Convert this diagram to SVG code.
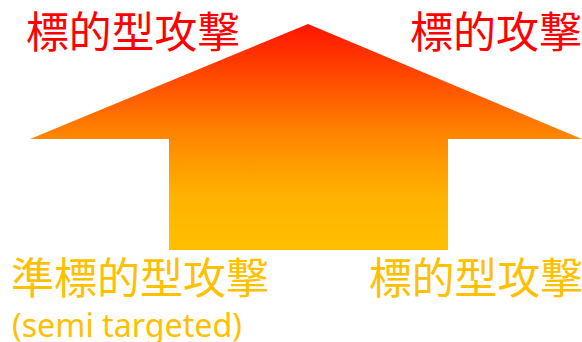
<svg xmlns="http://www.w3.org/2000/svg" width="582" height="342" viewBox="0 0 582 342">
  <defs>
    <linearGradient id="grad" gradientUnits="userSpaceOnUse" x1="0" y1="24" x2="0" y2="250">
      <stop offset="0" stop-color="#FF1400"/>
      <stop offset="0.283" stop-color="#FF5500"/>
      <stop offset="0.504" stop-color="#FF8800"/>
      <stop offset="0.77" stop-color="#FFB300"/>
      <stop offset="1" stop-color="#FFC000"/>
    </linearGradient>
  </defs>
  <style>
    .jp { font-family: "Noto Sans CJK JP", "Noto Sans", sans-serif; font-size: 43px; }
    .top { fill: #FF0000; }
    .bottom { fill: #FFC000; }
    .lat { font-family: "Noto Sans", "Noto Sans CJK JP", sans-serif; font-size: 32px; fill: #FFC000; }
  </style>
  <rect width="582" height="342" fill="#FFFFFF"/>
  <g id="arrow">
    <polygon points="308,24 582,139 448,139 448,250 169,250 169,139 30,139" fill="url(#grad)"/>
  </g>
  <g id="label-top-left">
    <text class="jp top" x="26" y="48" textLength="214" lengthAdjust="spacingAndGlyphs">標的型攻撃</text>
  </g>
  <g id="label-top-right">
    <text class="jp top" x="410" y="48" textLength="172" lengthAdjust="spacingAndGlyphs">標的攻撃</text>
  </g>
  <g id="label-bottom-left">
    <text class="jp bottom" x="11" y="294" textLength="258" lengthAdjust="spacingAndGlyphs">準標的型攻撃</text>
    <text class="lat" x="12" y="337" textLength="230" lengthAdjust="spacingAndGlyphs">(semi targeted)</text>
  </g>
  <g id="label-bottom-right">
    <text class="jp bottom" x="369" y="294" textLength="214" lengthAdjust="spacingAndGlyphs">標的型攻撃</text>
  </g>
</svg>
